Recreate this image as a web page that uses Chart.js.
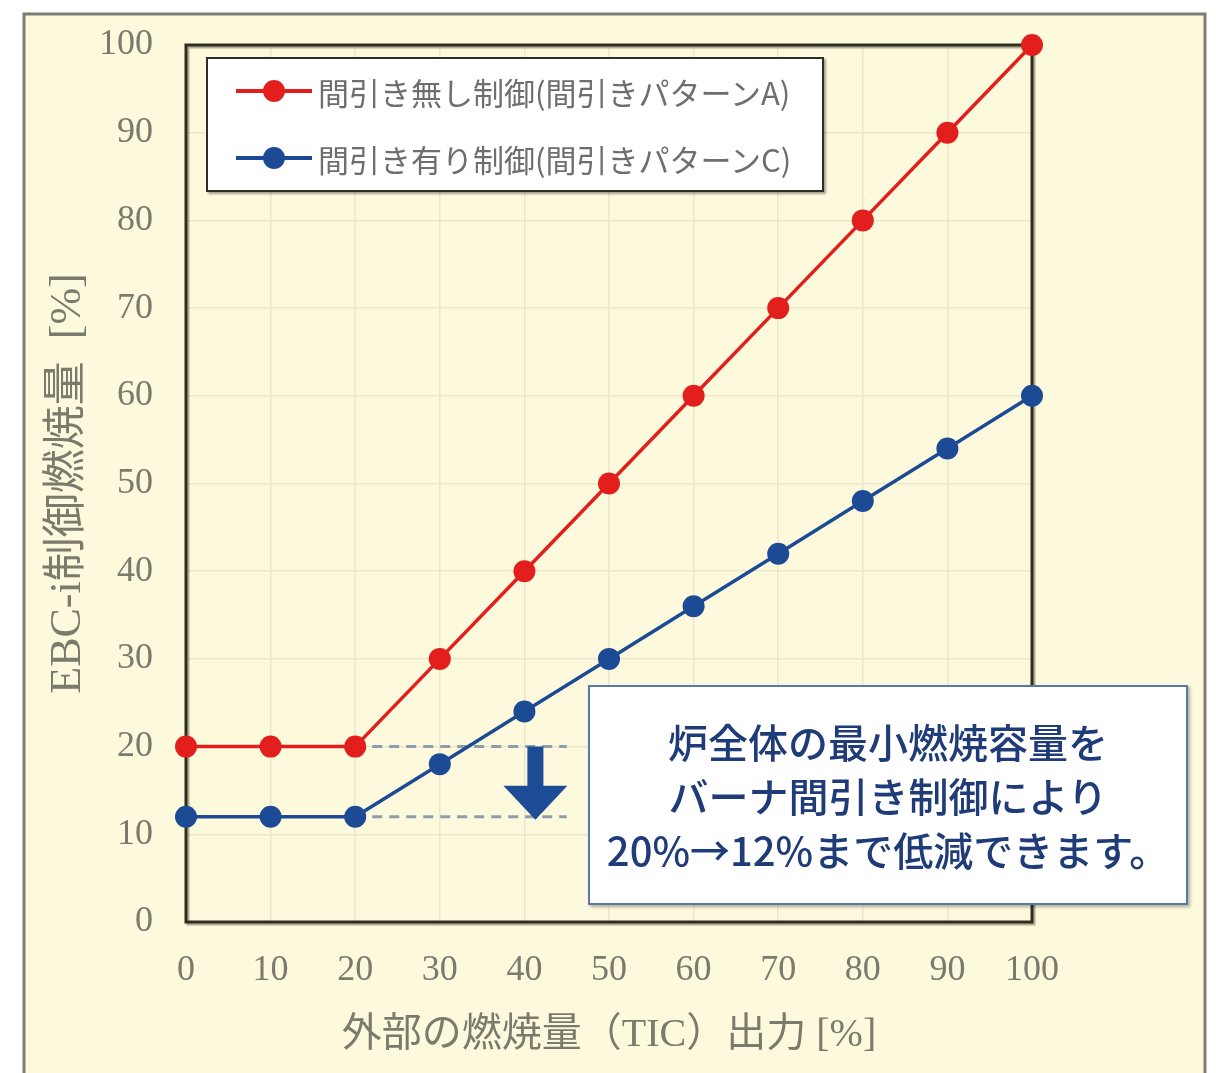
<!DOCTYPE html>
<html lang="ja">
<head>
<meta charset="utf-8">
<title>EBC-i制御燃焼量</title>
<script src="https://cdn.jsdelivr.net/npm/chart.js@4.4.1/dist/chart.umd.min.js"></script>
<style>
    html, body { margin: 0; padding: 0; background: #fff; }
    * { box-sizing: border-box; }
    #wrap { position: relative; width: 1216px; height: 1073px; overflow: hidden; }
    #chart { position: absolute; left: 0; top: 0; }
    .legend {
        position: absolute; left: 206px; top: 57px; width: 618px; height: 135px;
        background: #fff; border: 2px solid #2f2f28;
        box-shadow: 2px 2px 2px rgba(0, 0, 0, 0.35);
        font-family: "Noto Sans CJK JP", sans-serif; font-size: 31px; color: #6e6e6e;
    }
    .legend-item { position: absolute; left: 28px; height: 40px; display: flex; align-items: center; white-space: nowrap; }
    .legend-swatch { position: relative; width: 76px; height: 22px; margin-right: 6px; }
    .legend-swatch .ln { position: absolute; left: 0; right: 0; top: 9px; height: 4px; }
    .legend-swatch .dot { position: absolute; left: 27px; top: 0; width: 22px; height: 22px; border-radius: 50%; }
    .note {
        position: absolute; left: 588px; top: 685px; width: 600px; height: 220px;
        background: #fff; border: 2px solid #5b78ad;
        box-shadow: 2px 2px 3px rgba(0, 0, 0, 0.3);
        display: flex; flex-direction: column; justify-content: center; align-items: center;
        font-family: "Noto Sans CJK JP", sans-serif; font-size: 40px; font-weight: 500; line-height: 54px;
        color: #1f3c78; white-space: nowrap;
    }
</style>
</head>
<body>
<div id="wrap">
    <canvas id="chart" width="1216" height="1073"></canvas>
    <div class="legend" id="legend"></div>
    <div class="note" id="note"></div>
</div>
<script>
// Data
const xValues = [0, 10, 20, 30, 40, 50, 60, 70, 80, 90, 100];
const noThinning = [20, 20, 20, 30, 40, 50, 60, 70, 80, 90, 100];
const withThinning = [12, 12, 12, 18, 24, 30, 36, 42, 48, 54, 60];
const xTicks = [0, 10, 20, 30, 40, 50, 60, 70, 80, 90, 100];
const yTicks = [0, 10, 20, 30, 40, 50, 60, 70, 80, 90, 100];
const seriesNames = ['間引き無し制御(間引きパターンA)', '間引き有り制御(間引きパターンC)'];
const seriesColors = ['#e21f1c', '#1d4a94'];
const xTitle = '外部の燃焼量（TIC）出力 [%]';
const yTitle = 'EBC-i制御燃焼量  [%]';
const noteLines = ['炉全体の最小燃焼容量を', 'バーナ間引き制御により', '20%→12%まで低減できます。'];

// Guide marks (dashed levels + arrow)
const guideLevels = [20, 12];
const guideFrom = 20;
const guideTo = 45;
const arrowAt = 41.3;

const SERIF = "'Liberation Serif', 'Noto Sans CJK JP', serif";
const TEXT_GRAY = '#7b7b6d';
const GRID = '#ebe7cb';
const CREAM = '#fdf9dc';

// Background, outer frame
const framePlugin = {
    id: 'frame',
    beforeDraw(chart) {
        const ctx = chart.ctx;
        ctx.save();
        ctx.fillStyle = '#fff';
        ctx.fillRect(0, 0, chart.width, chart.height);
        ctx.fillStyle = CREAM;
        ctx.fillRect(24, 14, 1181, 1080);
        ctx.strokeStyle = '#7d7d75';
        ctx.lineWidth = 3;
        ctx.strokeRect(24, 14, 1181, 1080);
        ctx.restore();
    },
    beforeDatasetsDraw(chart) {
        const { ctx, chartArea: a, scales: { x, y } } = chart;
        ctx.save();
        // plot border with a little shadow
        ctx.strokeStyle = 'rgba(90, 80, 50, 0.45)';
        ctx.lineWidth = 3;
        ctx.strokeRect(a.left + 2, a.top + 2, a.right - a.left, a.bottom - a.top);
        ctx.strokeStyle = '#2e2e24';
        ctx.strokeRect(a.left, a.top, a.right - a.left, a.bottom - a.top);

        // dashed guide levels
        ctx.strokeStyle = '#8d9eab';
        ctx.lineWidth = 3;
        ctx.setLineDash([10, 7]);
        guideLevels.forEach(v => {
            const py = y.getPixelForValue(v);
            ctx.beginPath();
            ctx.moveTo(x.getPixelForValue(guideFrom), py);
            ctx.lineTo(x.getPixelForValue(guideTo), py);
            ctx.stroke();
        });
        ctx.setLineDash([]);

        // down arrow
        const ax = x.getPixelForValue(arrowAt);
        const top = y.getPixelForValue(guideLevels[0]);
        const tip = y.getPixelForValue(guideLevels[1]) + 3;
        const headTop = tip - 34;
        ctx.fillStyle = '#1f4c96';
        ctx.beginPath();
        ctx.moveTo(ax - 8, top);
        ctx.lineTo(ax + 8, top);
        ctx.lineTo(ax + 8, headTop);
        ctx.lineTo(ax + 32, headTop);
        ctx.lineTo(ax, tip);
        ctx.lineTo(ax - 32, headTop);
        ctx.lineTo(ax - 8, headTop);
        ctx.closePath();
        ctx.fill();
        ctx.restore();
    }
};

function makeSeries(values, i) {
    return {
        label: seriesNames[i],
        data: values.map((v, k) => ({ x: xValues[k], y: v })),
        borderColor: seriesColors[i],
        backgroundColor: seriesColors[i],
        borderWidth: 3.5,
        pointRadius: 11,
        pointHoverRadius: 11,
        pointBorderWidth: 0,
        pointBackgroundColor: seriesColors[i],
        tension: 0,
        fill: false,
        clip: false
    };
}

const datasets = [makeSeries(noThinning, 0), makeSeries(withThinning, 1)];

new Chart(document.getElementById('chart').getContext('2d'), {
    type: 'line',
    data: { datasets: datasets },
    options: {
        responsive: false,
        animation: false,
        devicePixelRatio: 1,
        layout: { padding: { left: 0, top: 45, right: 184, bottom: 0 } },
        plugins: {
            legend: { display: false },
            tooltip: { enabled: false }
        },
        scales: {
            x: {
                type: 'linear',
                min: 0,
                max: 100,
                afterBuildTicks: s => { s.ticks = xTicks.map(v => ({ value: v })); },
                afterFit: s => { s.height = 151; },
                ticks: {
                    padding: 27,
                    color: TEXT_GRAY,
                    autoSkip: false,
                    maxRotation: 0,
                    font: { family: SERIF, size: 36 }
                },
                grid: { color: GRID, lineWidth: 1.5, drawTicks: false },
                border: { display: false },
                title: {
                    display: true,
                    text: xTitle,
                    color: TEXT_GRAY,
                    font: { family: SERIF, size: 40 },
                    padding: { top: 0, bottom: 14 }
                }
            },
            y: {
                min: 0,
                max: 100,
                afterBuildTicks: s => { s.ticks = yTicks.map(v => ({ value: v })); },
                afterFit: s => { s.width = 186; s.paddingTop = 0; s.paddingBottom = 0; },
                ticks: {
                    padding: 33,
                    color: TEXT_GRAY,
                    font: { family: SERIF, size: 36 }
                },
                grid: { color: GRID, lineWidth: 1.5, drawTicks: false },
                border: { display: false },
                title: {
                    display: true,
                    text: yTitle,
                    color: TEXT_GRAY,
                    font: { family: SERIF, size: 44 },
                    padding: { top: 42, bottom: 0 }
                }
            }
        }
    },
    plugins: [framePlugin]
});

// HTML legend built from the series
const legend = document.getElementById('legend');
seriesNames.forEach((name, i) => {
    const item = document.createElement('div');
    item.className = 'legend-item';
    item.style.top = (12 + i * 67) + 'px';
    item.innerHTML = `
        <div class="legend-swatch">
            <div class="ln" style="background:${seriesColors[i]}"></div>
            <div class="dot" style="background:${seriesColors[i]}"></div>
        </div>
        <span>${name}</span>`;
    legend.appendChild(item);
});

// Annotation box
const note = document.getElementById('note');
noteLines.forEach(t => {
    const line = document.createElement('div');
    line.textContent = t;
    note.appendChild(line);
});
</script>
</body>
</html>
